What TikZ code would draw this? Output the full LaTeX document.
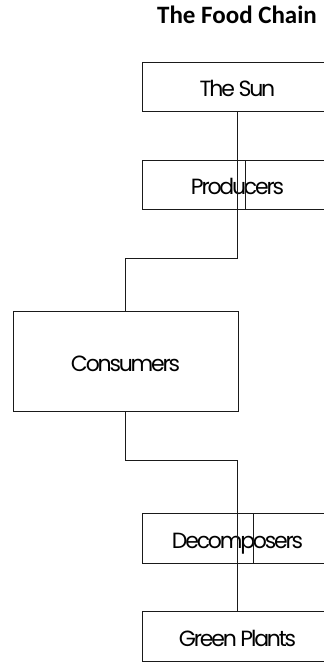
\documentclass[tikz,border=0pt]{standalone}
\usepackage{fontspec}
\newfontfamily\titlefont{Carlito}
\newfontfamily\boxfont[LetterSpace=-10]{Poppins}
\usetikzlibrary{positioning}
\definecolor{cline}{HTML}{1A1A1A}
\tikzset{
  every picture/.style={line width=0.9pt},
  box/.style={draw=cline, fill=white, inner sep=0pt, outer sep=0pt,
    minimum width=#1, minimum height=49pt, text height=20pt, text depth=0pt,
    font=\boxfont\fontsize{22}{24}\selectfont},
  box/.default=190pt,
  link/.style={draw=cline},
  title/.style={font=\titlefont\bfseries\fontsize{25}{28}\selectfont, anchor=base},
}
\begin{document}
\begin{tikzpicture}[x=1pt, y=-1pt]
  \useasboundingbox (0,0) rectangle (324,662);
  \node[title] (head) at (237,23.5) {The Food Chain};
  % chain boxes
  \node[box] (sun) at (237.5,86.5) {The Sun};
  \node[box] (prod) at (237.5,184.5) {Producers};
  \node[box=225pt, minimum height=100pt] (cons) at (125.5,361) {Consumers};
  \node[box, minimum height=50pt] (deco) at (237.5,538) {Decomposers};
  \node[box, minimum height=50pt] (plants) at (237.5,636) {Green Plants};
  % connectors
  \coordinate (j1) at (237.5,258);
  \coordinate (j2) at (125.5,460);
  \draw[link] (sun.south) -- (j1) -| (cons.north);
  \draw[link] (cons.south) -- (j2) -| (plants.north);
  % stray rules inside two boxes
  \draw[link] (245,0 |- prod.north) -- (245,0 |- prod.south);
  \draw[link] (253,0 |- deco.north) -- (253,0 |- deco.south);
\end{tikzpicture}
\end{document}
